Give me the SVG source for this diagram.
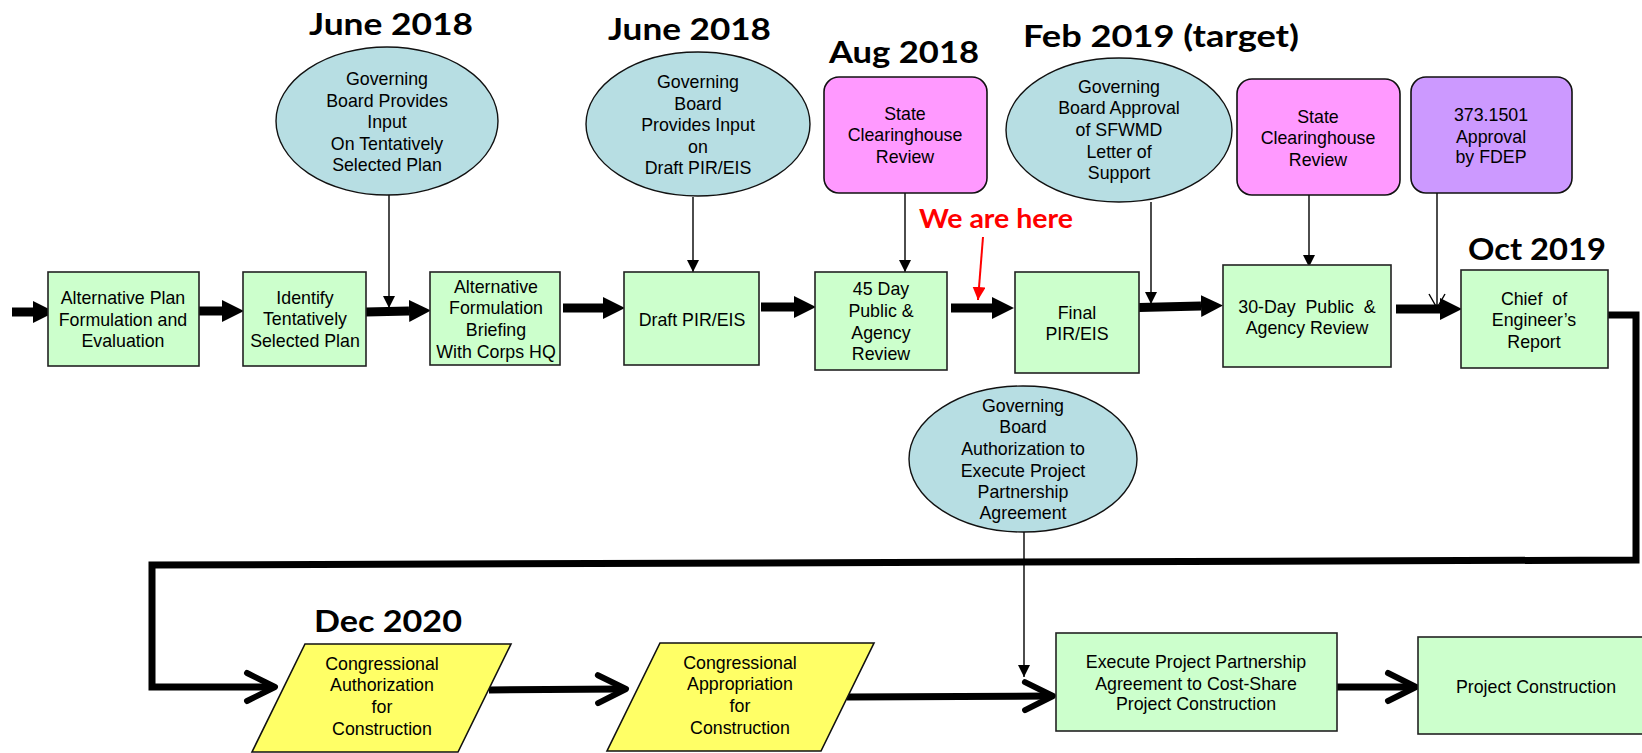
<svg xmlns="http://www.w3.org/2000/svg" width="1642" height="753" viewBox="0 0 1642 753">
<defs>
<style>
.t{font-family:"Liberation Sans",Arial,sans-serif;font-size:17.8px;text-anchor:middle;fill:#000;white-space:pre}
.h{font-family:Lato,"Liberation Sans",sans-serif;font-weight:700;font-size:31px;fill:#000}
.box{fill:#CCFFCC;stroke:#222;stroke-width:1.6}
.ell{fill:#B7DEE3;stroke:#111;stroke-width:1.4}
.pink{fill:#FF99FF;stroke:#111;stroke-width:1.6}
.purp{fill:#CC99FF;stroke:#111;stroke-width:1.6}
.par{fill:#FFFF66;stroke:#111;stroke-width:1.6}
.thick{stroke:#000;stroke-width:9;fill:none}
.ret{stroke:#000;stroke-width:7;fill:none}
.thin{stroke:#000;stroke-width:1.4;fill:none}
</style>
<marker id="big" markerUnits="userSpaceOnUse" markerWidth="22" markerHeight="22" viewBox="0 0 21 21" refX="0" refY="10.5" orient="auto">
<path d="M0,0 L21,10.5 L0,21 z" fill="#000"/>
</marker>
<marker id="tri" markerUnits="userSpaceOnUse" markerWidth="12" markerHeight="12" viewBox="0 0 12 12" refX="12" refY="6" orient="auto">
<path d="M0,0 L12,6 L0,12 z" fill="#000"/>
</marker>
<marker id="redtri" markerUnits="userSpaceOnUse" markerWidth="13" markerHeight="13" viewBox="0 0 13 13" refX="13" refY="6.5" orient="auto">
<path d="M0,0 L13,6.5 L0,13 z" fill="#FF0000"/>
</marker>
<marker id="vopen" markerUnits="userSpaceOnUse" markerWidth="16" markerHeight="18" viewBox="-1 -1 16 18" refX="14" refY="8" orient="auto">
<path d="M0,0 L14,8 L0,16" fill="none" stroke="#000" stroke-width="1.4"/>
</marker>
<marker id="chev" markerUnits="userSpaceOnUse" markerWidth="40" markerHeight="40" viewBox="0 0 40 40" refX="30" refY="20" orient="auto">
<path d="M5,6 L33,20 L5,34" fill="none" stroke="#000" stroke-width="6" stroke-linecap="round" stroke-linejoin="round"/>
</marker>
</defs>
<rect x="0" y="0" width="1642" height="753" fill="#fff"/>

<g id="titles">
<text class="h" x="309" y="35" textLength="164" lengthAdjust="spacingAndGlyphs">June 2018</text>
<text class="h" x="608" y="40" textLength="163" lengthAdjust="spacingAndGlyphs">June 2018</text>
<text class="h" x="829" y="63" textLength="150" lengthAdjust="spacingAndGlyphs">Aug 2018</text>
<text class="h" x="1023" y="47" textLength="276" lengthAdjust="spacingAndGlyphs">Feb 2019 (target)</text>
<text class="h" x="1468" y="260" textLength="138" lengthAdjust="spacingAndGlyphs">Oct 2019</text>
<text class="h" x="314" y="632" textLength="148" lengthAdjust="spacingAndGlyphs">Dec 2020</text>
<text class="h" x="919" y="228" style="font-size:26.5px;fill:#FF0000" textLength="154" lengthAdjust="spacingAndGlyphs">We are here</text>
</g>

<g id="connectors">
<line class="thick" x1="12" y1="312" x2="33" y2="312" marker-end="url(#big)"/>
<line class="thick" x1="199" y1="311" x2="222" y2="311" marker-end="url(#big)"/>
<line class="thick" x1="366" y1="312" x2="409" y2="311" marker-end="url(#big)"/>
<line class="thick" x1="563" y1="308" x2="603" y2="308" marker-end="url(#big)"/>
<line class="thick" x1="761" y1="307" x2="794" y2="307" marker-end="url(#big)"/>
<line class="thick" x1="951" y1="308" x2="992" y2="308" marker-end="url(#big)"/>
<line class="thick" x1="1139" y1="307.5" x2="1201" y2="306" marker-end="url(#big)"/>
<line class="thick" x1="1396" y1="309" x2="1440" y2="309" marker-end="url(#big)"/>
<polyline class="ret" points="1608,315 1636,315 1636,560 152,565 152,687 272,687" stroke-linejoin="miter" marker-end="url(#chev)"/>
<line class="ret" x1="489" y1="690" x2="623" y2="689" marker-end="url(#chev)"/>
<line class="ret" x1="847" y1="697" x2="1050" y2="696" marker-end="url(#chev)"/>
<line class="ret" x1="1337" y1="687" x2="1413" y2="687" marker-end="url(#chev)"/>
<line class="thin" x1="389" y1="195" x2="389" y2="308" marker-end="url(#tri)"/>
<line class="thin" x1="693" y1="197" x2="693" y2="272" marker-end="url(#tri)"/>
<line class="thin" x1="905" y1="193" x2="905" y2="272" marker-end="url(#tri)"/>
<line class="thin" x1="1151" y1="202" x2="1151" y2="304" marker-end="url(#tri)"/>
<line class="thin" x1="1309" y1="195" x2="1309" y2="267" marker-end="url(#tri)"/>
<line class="thin" x1="1437" y1="193" x2="1437" y2="308" marker-end="url(#vopen)"/>
<line class="thin" x1="1024" y1="532" x2="1024" y2="677" marker-end="url(#tri)"/>
<line x1="983" y1="237" x2="978" y2="300" stroke="#FF0000" stroke-width="2" marker-end="url(#redtri)"/>
</g>

<g id="n-alt-plan">
<rect class="box" x="48" y="272" width="151" height="94"/>
<text class="t"><tspan x="123" y="304">Alternative Plan</tspan><tspan x="123" y="326">Formulation and</tspan><tspan x="123" y="347">Evaluation</tspan></text>
</g>
<g id="n-identify">
<rect class="box" x="243" y="272" width="123" height="94"/>
<text class="t"><tspan x="305" y="304">Identify</tspan><tspan x="305" y="325">Tentatively</tspan><tspan x="305" y="347">Selected Plan</tspan></text>
</g>
<g id="n-briefing">
<rect class="box" x="430" y="272" width="130" height="93"/>
<text class="t"><tspan x="496" y="293">Alternative</tspan><tspan x="496" y="314">Formulation</tspan><tspan x="496" y="336">Briefing</tspan><tspan x="496" y="358">With Corps HQ</tspan></text>
</g>
<g id="n-draft">
<rect class="box" x="624" y="272" width="135" height="93"/>
<text class="t" x="692" y="326">Draft PIR/EIS</text>
</g>
<g id="n-45day">
<rect class="box" x="815" y="272" width="132" height="98"/>
<text class="t"><tspan x="881" y="295">45 Day</tspan><tspan x="881" y="317">Public &amp;</tspan><tspan x="881" y="339">Agency</tspan><tspan x="881" y="360">Review</tspan></text>
</g>
<g id="n-final">
<rect class="box" x="1015" y="272" width="124" height="101"/>
<text class="t"><tspan x="1077" y="319">Final</tspan><tspan x="1077" y="340">PIR/EIS</tspan></text>
</g>
<g id="n-30day">
<rect class="box" x="1223" y="265" width="168" height="102"/>
<text class="t"><tspan x="1307" y="313">30-Day  Public  &amp;</tspan><tspan x="1307" y="334">Agency Review</tspan></text>
</g>
<g id="n-chief">
<rect class="box" x="1461" y="270" width="147" height="98"/>
<text class="t"><tspan x="1534" y="305">Chief  of</tspan><tspan x="1534" y="326">Engineer’s</tspan><tspan x="1534" y="348">Report</tspan></text>
</g>

<g id="n-gb-tsp">
<ellipse class="ell" cx="387" cy="121" rx="111" ry="74"/>
<text class="t"><tspan x="387" y="85">Governing</tspan><tspan x="387" y="107">Board Provides</tspan><tspan x="387" y="128">Input</tspan><tspan x="387" y="150">On Tentatively</tspan><tspan x="387" y="171">Selected Plan</tspan></text>
</g>
<g id="n-gb-draft">
<ellipse class="ell" cx="698" cy="124" rx="112" ry="72"/>
<text class="t"><tspan x="698" y="88">Governing</tspan><tspan x="698" y="110">Board</tspan><tspan x="698" y="131">Provides Input</tspan><tspan x="698" y="153">on</tspan><tspan x="698" y="174">Draft PIR/EIS</tspan></text>
</g>
<g id="n-clearing1">
<rect class="pink" x="824" y="77" width="163" height="116" rx="15"/>
<text class="t"><tspan x="905" y="120">State</tspan><tspan x="905" y="141">Clearinghouse</tspan><tspan x="905" y="163">Review</tspan></text>
</g>
<g id="n-gb-approval">
<ellipse class="ell" cx="1119" cy="130" rx="113" ry="72"/>
<text class="t"><tspan x="1119" y="93">Governing</tspan><tspan x="1119" y="114">Board Approval</tspan><tspan x="1119" y="136">of SFWMD</tspan><tspan x="1119" y="158">Letter of</tspan><tspan x="1119" y="179">Support</tspan></text>
</g>
<g id="n-clearing2">
<rect class="pink" x="1237" y="79" width="163" height="116" rx="15"/>
<text class="t"><tspan x="1318" y="123">State</tspan><tspan x="1318" y="144">Clearinghouse</tspan><tspan x="1318" y="166">Review</tspan></text>
</g>
<g id="n-fdep">
<rect class="purp" x="1411" y="77" width="161" height="116" rx="15"/>
<text class="t"><tspan x="1491" y="121">373.1501</tspan><tspan x="1491" y="143">Approval</tspan><tspan x="1491" y="163">by FDEP</tspan></text>
</g>
<g id="n-gb-ppa">
<ellipse class="ell" cx="1023" cy="459" rx="114" ry="73"/>
<text class="t"><tspan x="1023" y="412">Governing</tspan><tspan x="1023" y="433">Board</tspan><tspan x="1023" y="455">Authorization to</tspan><tspan x="1023" y="477">Execute Project</tspan><tspan x="1023" y="498">Partnership</tspan><tspan x="1023" y="519">Agreement</tspan></text>
</g>

<g id="n-cong-auth">
<polygon class="par" points="305,644 511,644 458,752 252,752"/>
<text class="t"><tspan x="382" y="670">Congressional</tspan><tspan x="382" y="691">Authorization</tspan><tspan x="382" y="713">for</tspan><tspan x="382" y="735">Construction</tspan></text>
</g>
<g id="n-cong-approp">
<polygon class="par" points="660,643 874,643 821,751 607,751"/>
<text class="t"><tspan x="740" y="669">Congressional</tspan><tspan x="740" y="690">Appropriation</tspan><tspan x="740" y="712">for</tspan><tspan x="740" y="734">Construction</tspan></text>
</g>
<g id="n-execute">
<rect class="box" x="1056" y="633" width="281" height="98"/>
<text class="t"><tspan x="1196" y="668">Execute Project Partnership</tspan><tspan x="1196" y="690">Agreement to Cost-Share</tspan><tspan x="1196" y="710">Project Construction</tspan></text>
</g>
<g id="n-construction">
<rect class="box" x="1418" y="637" width="240" height="97"/>
<text class="t" x="1536" y="693">Project Construction</text>
</g>
</svg>
